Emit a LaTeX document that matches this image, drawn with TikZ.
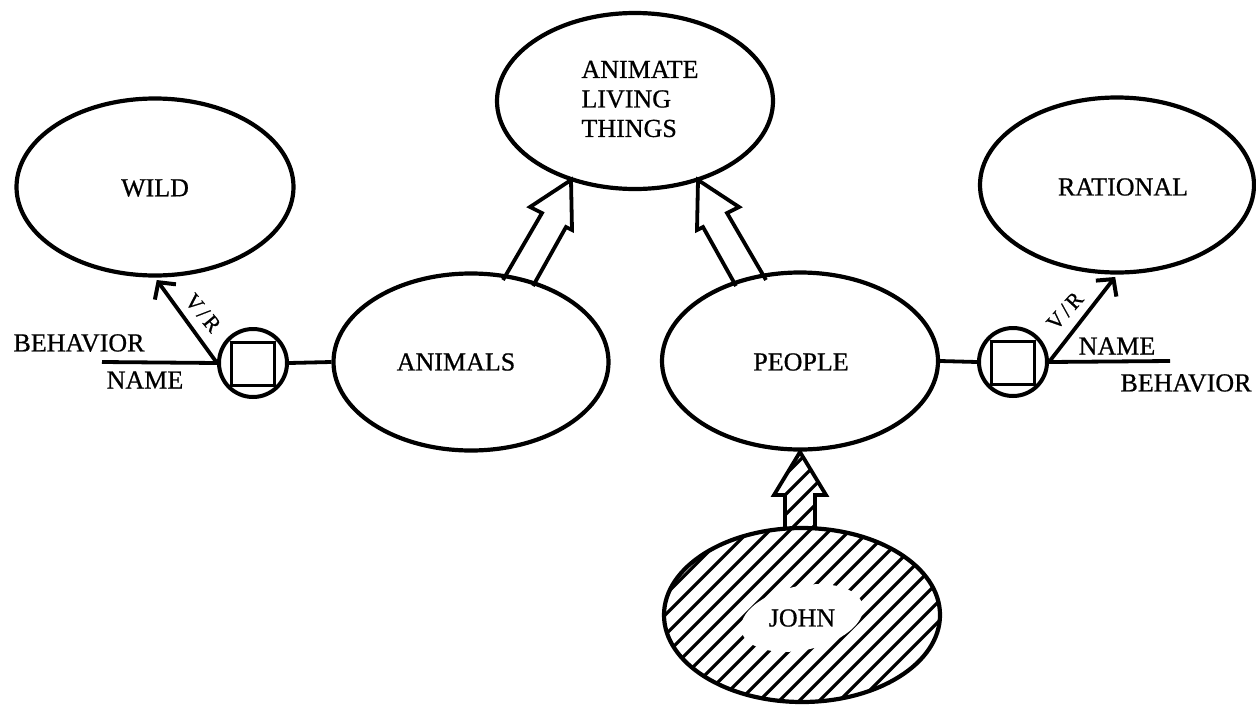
\documentclass[tikz,border=0pt]{standalone}
\usepackage{fontspec}
\setmainfont{Liberation Serif}
\newfontfamily\labfont{Liberation Serif}[FakeBold=0.7]
\usetikzlibrary{shapes.geometric,arrows.meta,calc}
\begin{document}
\begin{tikzpicture}[x=1pt,y=-1pt,
  concept/.style={ellipse,draw,line width=4.2pt,inner sep=0pt},
  rolecirc/.style={circle,draw,line width=4pt,minimum size=68pt,inner sep=0pt},
  rolesq/.style={rectangle,draw,line width=3.8pt,minimum size=43pt,inner sep=0pt},
  link/.style={line width=3.8pt},
  vr/.style={line width=3.8pt,shorten >=3pt,-{Straight Barb[length=12pt,width=26pt,line width=4pt]}},
  lbl/.style={font=\labfont\fontsize{26}{29.5}\selectfont,inner sep=0pt},
  small/.style={font=\labfont\fontsize{22}{24}\selectfont,inner sep=0pt},
  block/.style={draw,fill=white,line width=3.8pt,line join=miter},
  hatch/.style={line width=3.2pt}
]
\useasboundingbox (0,0) rectangle (1256,707);

% hollow subset arrows (drawn first, so ellipse outlines stay on top)
\draw[block] (503,280) coordinate (la1) -- (542,213) -- (530,207) -- (571,180) -- (572,230) -- (566,227) -- (533,286) coordinate (la2);
\draw[block] (766,280) coordinate (ra1) -- (727,213) -- (739,207) -- (698,180) -- (697,230) -- (703,227) -- (736,286) coordinate (ra2);

% concept ellipses
\node[concept,minimum width=276pt,minimum height=176pt] (alt) at (635,101) {};
\node[concept,minimum width=277pt,minimum height=177pt] (wild) at (155,187) {};
\node[concept,minimum width=274pt,minimum height=175pt] (rational) at (1117,185) {};
\node[concept,minimum width=275pt,minimum height=177pt] (animals) at (471,362) {};
\node[concept,minimum width=276pt,minimum height=177pt] (people) at (800,361) {};

% John (hatched)
\begin{scope}
  \clip (802,615) ellipse [x radius=138, y radius=87];
  \foreach \c in {1180,1200,...,1680} \draw[hatch] (\c-740,740) -- (\c-420,420);
\end{scope}
\fill[white,rotate around={12:(802,618)}] (802,618) ellipse [x radius=62, y radius=32];
\node[concept,minimum width=276pt,minimum height=174pt] (john) at (802,615) {};
\node[lbl] (johnlbl) at (802,618) {JOHN};

% hatched arrow John -> People
\begin{scope}
  \clip (785,530) -- (785,495) -- (774,495) -- (800,452) -- (826,495) -- (815,495) -- (815,530) -- cycle;
  \foreach \c in {1180,1200,...,1680} \draw[hatch] (\c-740,740) -- (\c-420,420);
\end{scope}
\draw[link,line join=miter] (785,527) -- (785,495) -- (774,495) -- (800,452) -- (826,495) -- (815,495) -- (815,527);

% labels of concepts
\node[lbl,align=left] (altlbl) at (640,99) {ANIMATE\\LIVING\\THINGS};
\node[lbl] (wildlbl) at (155,188) {WILD};
\node[lbl] (rationallbl) at (1123,187) {RATIONAL};
\node[lbl] (animalslbl) at (456,362) {ANIMALS};
\node[lbl] (peoplelbl) at (801,362) {PEOPLE};

% role nodes
\node[rolecirc] (roleL) at (253,363) {};
\node[rolesq] (sqL) at (253,364) {};
\node[rolecirc] (roleR) at (1013,362) {};
\node[rolesq] (sqR) at (1013,363) {};

\draw[link] (roleL.east) -- (animals.west);
\draw[link] (people.east) -- (roleR.west);

\coordinate (lend) at (102,362);
\coordinate (rend) at (1170,361);
\draw[link] (roleL.west) -- (lend);
\draw[link] (roleR.east) -- (rend);

\draw[vr] (roleL.west) -- (wild.south);
\draw[vr] (roleR.east) -- (rational.south);

\node[small,rotate=-50] (vrL) at (203,313) {V\kern3pt/\kern3pt R};
\node[small,rotate=48] (vrR) at (1065,311) {V\kern3pt/\kern3pt R};

\node[lbl] (behL) at (79,343) {BEHAVIOR};
\node[lbl] (nameL) at (145,380) {NAME};
\node[lbl] (nameR) at (1117,346) {NAME};
\node[lbl] (behR) at (1186,383) {BEHAVIOR};
\end{tikzpicture}
\end{document}
